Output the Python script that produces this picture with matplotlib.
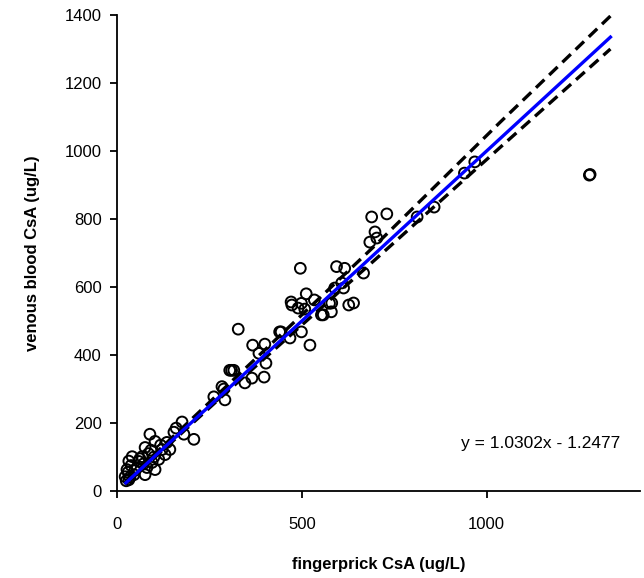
import matplotlib
matplotlib.use("Agg")
import matplotlib.pyplot as plt

plt.rcParams['font.family'] = ['Liberation Sans', 'DejaVu Sans']

# Scatter data: fingerprick (x) vs venous blood (y), ug/L
finger = [22, 27, 32, 32, 41, 46, 54, 59, 68, 76, 76, 81, 89, 95, 103, 103, 113, 122,
          130, 135, 143, 154, 176, 181, 208, 25, 30, 35, 38, 48, 62, 72, 85, 92, 100,
          118, 160,
          262, 284, 289, 292, 305, 310, 316, 328, 346, 365, 367, 384, 398, 400, 403,
          440, 444, 468, 471, 473, 490, 496, 499, 499, 508, 512, 522, 534, 553, 558,
          575, 580, 581, 589, 594, 608, 613, 616, 627, 640, 667, 684,
          689, 698, 703, 730, 812, 858, 940, 968, 1278, 1280]
venous = [42, 63, 33, 88, 101, 48, 69, 87, 101, 128, 48, 69, 167, 84, 146, 63, 93, 122,
          107, 143, 122, 173, 203, 167, 152, 30, 55, 40, 75, 60, 95, 80, 110, 120, 100,
          135, 185,
          277, 307, 300, 268, 355, 355, 355, 476, 318, 332, 429, 405, 335, 432, 376,
          468, 468, 450, 556, 547, 538, 655, 552, 468, 535, 580, 429, 562, 518, 518,
          552, 527, 553, 597, 660, 612, 597, 655, 547, 553, 641, 732,
          806, 762, 744, 815, 806, 835, 935, 968, 929, 931]

# Solid blue line and dashed limits
line_x = [24, 1335]
line_y = [24, 1335]
band_x = [24, 300, 700, 1036, 1335]
upper_y = [29, 312, 724, 1084, 1397]
lower_y = [21, 294, 682, 1010, 1300]

fig = plt.figure(figsize=(6.44, 5.78), dpi=100)
ax = fig.add_axes([117/644, 87/578, (640-117)/644, (491-15)/578])

ax.scatter(finger, venous, s=60, facecolors='none', edgecolors='black', linewidths=1.4, zorder=2)

ax.plot(line_x, line_y, color='#0000FF', lw=2.4, zorder=4)
ax.plot(band_x, upper_y, color='black', lw=2.4, ls=(0, (3.5, 2)), zorder=3)
ax.plot(band_x, lower_y, color='black', lw=2.4, ls=(0, (3.5, 2)), zorder=3)

ax.set_xlim(0, 1415)
ax.set_ylim(0, 1400)
ax.set_xticks([0, 500, 1000])
ax.set_yticks(range(0, 1401, 200))
ax.spines['top'].set_visible(False)
ax.spines['right'].set_visible(False)
for s in ['left', 'bottom']:
    ax.spines[s].set_linewidth(1.3)
ax.tick_params(direction='out', length=5, width=1.3, labelsize=12, pad=14)
ax.tick_params(axis='y', pad=6)

ax.set_xlabel('fingerprick CsA (ug/L)', fontsize=12, fontweight='bold', labelpad=18)
ax.set_ylabel('venous blood CsA (ug/L)', fontsize=12, fontweight='bold', labelpad=18)

ax.text(0.81, 0.10, 'y = 1.0302x - 1.2477', transform=ax.transAxes, fontsize=12.5,
        ha='center', va='center')

fig.savefig('out.png', dpi=100)
